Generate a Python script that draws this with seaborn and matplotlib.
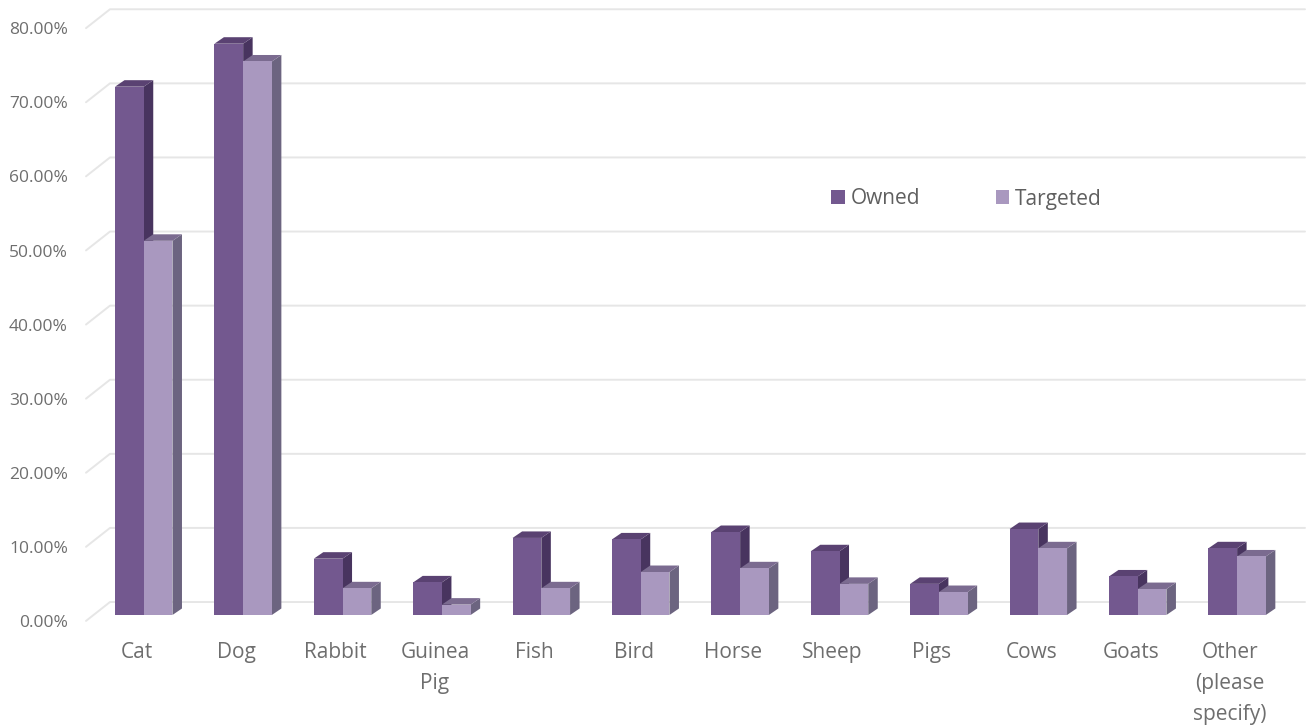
import matplotlib
matplotlib.use("Agg")
import matplotlib.pyplot as plt
from matplotlib.patches import Patch, Polygon
from matplotlib.transforms import ScaledTranslation
import pandas as pd
import seaborn as sns

categories = ["Cat", "Dog", "Rabbit", "Guinea\nPig", "Fish", "Bird", "Horse", "Sheep",
              "Pigs", "Cows", "Goats", "Other\n(please\nspecify)"]
owned = [71.3, 77.1, 7.6, 4.4, 10.4, 10.2, 11.2, 8.6, 4.2, 11.6, 5.2, 9.0]
targeted = [50.5, 74.7, 3.6, 1.4, 3.6, 5.8, 6.3, 4.2, 3.1, 9.0, 3.5, 7.9]
y_ticks = [0, 10, 20, 30, 40, 50, 60, 70, 80]

front_colors = {"Owned": "#73588f", "Targeted": "#a998bf"}
side_colors = {"Owned": "#48345f", "Targeted": "#6c6480"}
top_colors = {"Owned": "#5a4272", "Targeted": "#7b6b90"}
grey = "#6e6e6e"

sns.set_theme(style="white")
plt.rcParams["font.family"] = ["Open Sans", "DejaVu Sans"]

df = pd.DataFrame({
    "animal": categories * 2,
    "pct": owned + targeted,
    "kind": ["Owned"] * len(owned) + ["Targeted"] * len(targeted),
})

W, H = 1306, 726
fig = plt.figure(figsize=(W / 100, H / 100), dpi=100)
# axes box in pixels: x 86..1305, y 7.4..622.4
ax = fig.add_axes([86 / W, 1 - 622.4 / H, (1305 - 86) / W, (622.4 - 7.4) / H])

sns.barplot(data=df, x="animal", y="pct", hue="kind", palette=front_colors,
            width=0.578, gap=0, saturation=1, legend=False, ax=ax, zorder=3,
            linewidth=0)
ax.set_xlim(-0.581, 11.683)
ax.set_ylim(-1, 82)
ax.set_xlabel("")
ax.set_ylabel("")
sns.despine(ax=ax, left=True, bottom=True)

# wall and floor lines sit behind the bars, tilted at the left edge
x0, x1 = ax.get_xlim()
step_x = 24 / 99.4
for v in y_ticks:
    ax.plot([x0, x0 + step_x, x1], [v - 0.8, v + 1.75, v + 1.75],
            color="#e6e6e6", lw=1.4, zorder=1, clip_on=False)

# fake 3d: side and top faces from each bar
depth_x = 9.5 / 99.4
depth_y = 6.5 / 7.41
for container, kind in zip(ax.containers, ["Owned", "Targeted"]):
    z = 2 if kind == "Owned" else 2.5
    for bar in container:
        l, r = bar.get_x(), bar.get_x() + bar.get_width()
        t = bar.get_height()
        ax.add_patch(Polygon([(r, 0), (r + depth_x, depth_y), (r + depth_x, t + depth_y), (r, t)],
                             fc=side_colors[kind], ec="none", zorder=z))
        ax.add_patch(Polygon([(l, t), (l + depth_x, t + depth_y), (r + depth_x, t + depth_y), (r, t)],
                             fc=top_colors[kind], ec="none", zorder=z))

ax.set_yticks(y_ticks)
ax.set_yticklabels([f"{v:.2f}%" for v in y_ticks])
ax.tick_params(axis="y", length=0, pad=13, labelsize=12.5, labelcolor=grey)
ax.tick_params(axis="x", length=0, pad=14, labelsize=15, labelcolor=grey)
for lab in ax.get_yticklabels():
    lab.set_transform(lab.get_transform() + ScaledTranslation(0, -6 / 100, fig.dpi_scale_trans))
for lab in ax.get_xticklabels():
    lab.set_transform(lab.get_transform() + ScaledTranslation(-7 / 100, 0, fig.dpi_scale_trans))
    lab.set_linespacing(1.62)

handles = [Patch(fc=front_colors[k], ec="none", label=k) for k in ["Owned", "Targeted"]]
ax.legend(handles=handles, ncol=2, frameon=False, fontsize=15, labelcolor="#5f5f5f",
          handlelength=0.65, handleheight=0.65, handletextpad=0.3, columnspacing=3.6,
          loc="center left", bbox_to_anchor=(812.5 / W, 1 - 199 / H), bbox_transform=fig.transFigure)

fig.savefig("out.png", dpi=100, facecolor="white")
